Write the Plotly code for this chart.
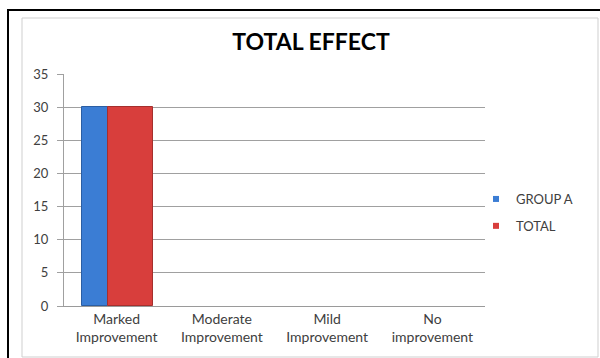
import plotly.graph_objects as go

categories = ["Marked<br>Improvement", "Moderate<br>Improvement", "Mild<br>Improvement", "No<br>improvement"]
group_a = [30, 0, 0, 0]
total = [30, 0, 0, 0]
y_ticks = [0, 5, 10, 15, 20, 25, 30, 35]
series_names = ["GROUP A", "TOTAL"]
series_colors = ["#3b7dd4", "#d83e3c"]

ML, MR, MT, MB = 64, 115, 74, 52
W, H = 600, 358
PW, PH = W - ML - MR, H - MT - MB


def px_x(p):
    return (p - ML) / PW


def px_y(p):
    return (H - MB - p) / PH


fig = go.Figure()
fig.add_trace(go.Bar(x=categories, y=group_a, name=series_names[0], showlegend=False,
                     marker=dict(color=series_colors[0],
                                 line=dict(color="#2b5ea3", width=[1 if v else 0 for v in group_a])),
                     width=0.247, offset=-0.329))
fig.add_trace(go.Bar(x=categories, y=total, name=series_names[1], showlegend=False,
                     marker=dict(color=series_colors[1],
                                 line=dict(color="#a52f2d", width=[1 if v else 0 for v in total])),
                     width=0.428, offset=-0.082))
# legend entries with small square swatches
for nm, col in zip(series_names, series_colors):
    fig.add_trace(go.Scatter(x=[None], y=[None], mode="markers", name=nm,
                             legendgroup=nm,
                             marker=dict(symbol="square", size=6, color=col)))

shapes = [
    dict(type="rect", xref="paper", yref="paper",
         x0=px_x(8), x1=px_x(610), y0=px_y(370), y1=px_y(10),
         line=dict(color="black", width=2), layer="below"),
    dict(type="rect", xref="paper", yref="paper",
         x0=px_x(22), x1=px_x(598), y0=px_y(357), y1=px_y(18),
         line=dict(color="#cfcfcf", width=1), layer="below"),
]

fig.update_layout(
    width=W, height=H,
    margin=dict(l=ML, r=MR, t=MT, b=MB),
    paper_bgcolor="white", plot_bgcolor="white",
    font=dict(family="Lato, Open Sans, sans-serif", color="#404040", size=13),
    title=dict(text="<b>TOTAL EFFECT</b>", x=311 / W, xanchor="center",
               y=1 - 42 / H, yanchor="middle", yref="container",
               font=dict(size=23, color="black", family="Lato, Open Sans, sans-serif")),
    showlegend=True,
    legend=dict(x=px_x(476), y=px_y(184), xanchor="left", yanchor="top",
                font=dict(size=13, color="#404040"), itemwidth=30,
                traceorder="grouped", tracegroupgap=7, bgcolor="rgba(0,0,0,0)"),
    bargap=0, shapes=shapes,
    xaxis=dict(showgrid=False, showline=True, linecolor="#9a9a9a", ticks="",
               tickfont=dict(size=14, color="#404040")),
    yaxis=dict(range=[0, 35], tickvals=y_ticks, showgrid=True, gridcolor="#a0a0a0",
               gridwidth=1, showline=True, linecolor="#a0a0a0", ticks="outside",
               ticklen=6, tickcolor="#a0a0a0", zeroline=False, ticklabelstandoff=6,
               tickfont=dict(size=13, color="#404040")),
)

fig.write_html("out.html")
